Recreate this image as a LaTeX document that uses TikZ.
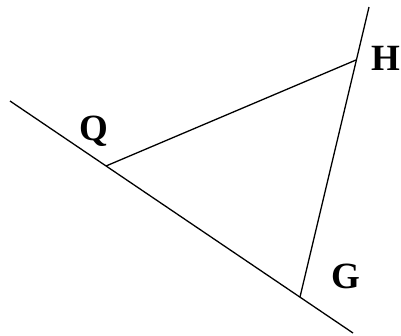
\documentclass[tikz,border=0pt]{standalone}
\usepackage{fontspec}
\setmainfont{Liberation Serif}
\begin{document}
\begin{tikzpicture}[x=1pt,y=-1pt,
  ln/.style={line width=1.3pt,black},
  lbl/.style={font=\fontsize{37}{41}\selectfont\bfseries,inner sep=0pt,anchor=center}]
\useasboundingbox (0,0) rectangle (401,335);
\coordinate (A1) at (10,101);
\coordinate (A2) at (353,333);
\coordinate (B1) at (369,7);
\coordinate (Q) at (106,166);
\coordinate (H) at (356,60);
\coordinate (G) at (300,297);
\draw[ln] (A1) -- (A2);
\draw[ln] (B1) -- (G);
\draw[ln] (Q) -- (H);
\node[lbl] (lq) at (94,131) {Q};
\node[lbl] (lh) at (386,58) {H};
\node[lbl] (lg) at (346,276) {G};
\end{tikzpicture}
\end{document}
